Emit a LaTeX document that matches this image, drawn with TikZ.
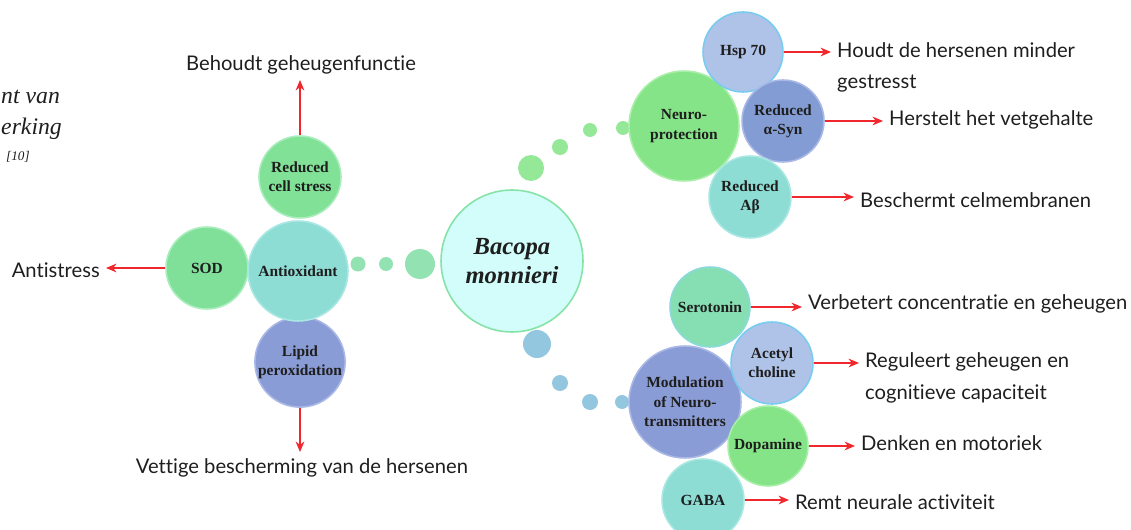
\documentclass[tikz,border=0pt]{standalone}
\usepackage{fontspec}
\setmainfont{Liberation Serif}
\newfontfamily\latofont[Ligatures=NoCommon]{Lato}
\usetikzlibrary{arrows.meta}

\definecolor{bacopafill}{HTML}{D2FDFA}
\definecolor{bacopaline}{HTML}{86E3A8}
\definecolor{tealfill}{HTML}{8EDDD5}
\definecolor{tealline}{HTML}{A9E8E2}
\definecolor{greenfill}{HTML}{80E09A}
\definecolor{greenline}{HTML}{A8EDBC}
\definecolor{limefill}{HTML}{84E487}
\definecolor{limeline}{HTML}{A9EEA9}
\definecolor{bluefill}{HTML}{8A9CD5}
\definecolor{blueline}{HTML}{A9B8E6}
\definecolor{synfill}{HTML}{839DD4}
\definecolor{paleblue}{HTML}{AFC2E8}
\definecolor{skyline}{HTML}{78CCEF}
\definecolor{dotgreen}{HTML}{93E2B2}
\definecolor{dotblue}{HTML}{93C6DF}
\definecolor{arrowred}{HTML}{F0282D}
\definecolor{labelgray}{HTML}{1E1E1E}

\begin{document}
\begin{tikzpicture}
    [x=0.02cm, y=-0.02cm,
    bubble/.style={circle, draw, line width=0.9pt, inner sep=0pt, align=center,
        text=labelgray, font=\fontsize{8.8}{11}\selectfont\bfseries},
    dot/.style={circle, inner sep=0pt},
    effect/.style={-{Stealth[length=6pt,width=5pt]}, arrowred, line width=0.6pt},
    effect text/.style={text=labelgray, font=\latofont\fontsize{11.5}{14}\selectfont}]

    \useasboundingbox (0,0) rectangle (1131,530);
    \clip (0,0) rectangle (1131,530);

    % caption at the left edge
    \node[anchor=west, inner xsep=0.5pt, font=\itshape\fontsize{13.5}{16}\selectfont, text=labelgray] (capa) at (0,97) {nt van};
    \node[anchor=west, inner xsep=0.5pt, font=\itshape\fontsize{13.5}{16}\selectfont, text=labelgray] (capb) at (0,129) {erking};
    \node[anchor=west, font=\itshape\fontsize{7.5}{8}\selectfont, text=labelgray] (capc) at (0,157) {[10]};

    % drawing the dots between the clusters
    \node[dot, fill=dotgreen, minimum size=0.3cm] (ldot1) at (358,264) {};
    \node[dot, fill=dotgreen, minimum size=0.28cm] (ldot2) at (386,264) {};
    \node[dot, fill=dotgreen, minimum size=0.6cm] (ldot3) at (420,264) {};
    \node[dot, fill=limefill!85!white, minimum size=0.52cm] (udot1) at (531,168) {};
    \node[dot, fill=limefill!85!white, minimum size=0.32cm] (udot2) at (560,147) {};
    \node[dot, fill=limefill!85!white, minimum size=0.28cm] (udot3) at (590,130) {};
    \node[dot, fill=limefill!85!white, minimum size=0.28cm] (udot4) at (623,128) {};
    \node[dot, fill=dotblue, minimum size=0.56cm] (bdot1) at (537,344) {};
    \node[dot, fill=dotblue, minimum size=0.32cm] (bdot2) at (560,383) {};
    \node[dot, fill=dotblue, minimum size=0.32cm] (bdot3) at (590,402) {};
    \node[dot, fill=dotblue, minimum size=0.28cm] (bdot4) at (622,402) {};

    % drawing the centre
    \node[bubble, fill=bacopafill, draw=bacopaline, minimum size=2.84cm,
        font=\fontsize{14}{16.5}\selectfont\bfseries\itshape] (bacopa) at (512,261) {Bacopa\\monnieri};

    % drawing the antioxidant cluster
    \node[bubble, fill=greenfill, draw=greenline, minimum size=1.64cm] (sod) at (207,268) {SOD};
    \node[bubble, fill=greenfill!80!limefill, draw=greenline, minimum size=1.64cm] (cellstress) at (300,177) {Reduced\\cell stress};
    \node[bubble, fill=bluefill, draw=blueline, minimum size=1.72cm] (lipid) at (300,362) {Lipid\\peroxidation};
    \node[bubble, fill=tealfill, draw=tealline, minimum size=2.0cm] (antiox) at (298,271) {Antioxidant};

    % drawing the neuroprotection cluster
    \node[bubble, fill=limefill, draw=limeline, minimum size=2.2cm] (neuro) at (684,126) {Neuro-\\protection};
    \node[bubble, fill=paleblue, draw=skyline, minimum size=1.6cm] (hsp) at (743,52) {Hsp 70};
    \node[bubble, fill=synfill, draw=blueline, minimum size=1.64cm] (asyn) at (783,121) {Reduced\\α-Syn};
    \node[bubble, fill=tealfill, draw=tealline, minimum size=1.64cm] (abeta) at (750,197) {Reduced\\Aβ};

    % drawing the neurotransmitter cluster
    \node[bubble, fill=bluefill, draw=blueline, minimum size=2.24cm] (modul) at (685,402) {Modulation\\of Neuro-\\transmitters};
    \node[bubble, fill=greenfill!60!tealfill, draw=skyline!60!greenline, minimum size=1.6cm] (sero) at (710,307) {Serotonin};
    \node[bubble, fill=paleblue, draw=skyline, minimum size=1.64cm] (acetyl) at (772,363) {Acetyl\\choline};
    \node[bubble, fill=tealfill, draw=tealline, minimum size=1.64cm] (gaba) at (703,500) {GABA};
    \node[bubble, fill=limefill, draw=limeline, minimum size=1.6cm] (dopa) at (768,446) {Dopamine};

    % drawing the effect texts
    \node[effect text, anchor=south] (behoudt) at (301,80) {Behoudt geheugenfunctie};
    \node[effect text, anchor=east] (antistress) at (106,270) {Antistress};
    \node[effect text, anchor=north] (vettige) at (302,452) {Vettige bescherming van de hersenen};
    \node[effect text, anchor=west] (hsptxt) at (831,50) {Houdt de hersenen minder};
    \node[effect text, anchor=west] (hsptxtb) at (831,84) {gestresst};
    \node[effect text, anchor=west] (asyntxt) at (883,120) {Herstelt het vetgehalte};
    \node[effect text, anchor=west] (abetatxt) at (854,200) {Beschermt celmembranen};
    \node[effect text, anchor=west] (serotxt) at (802,304) {Verbetert concentratie en geheugen};
    \node[effect text, anchor=west] (acetyltxt) at (859,362) {Reguleert geheugen en};
    \node[effect text, anchor=west] (acetyltxtb) at (859,394) {cognitieve capaciteit};
    \node[effect text, anchor=west] (dopatxt) at (855,443) {Denken en motoriek};
    \node[effect text, anchor=west] (gabatxt) at (789,502) {Remt neurale activiteit};

    % drawing the arrows
    \draw[effect] (cellstress.north) -- (cellstress.north |- behoudt.south);
    \draw[effect] (sod.west) -- (sod.west -| antistress.east);
    \draw[effect] (lipid.south) -- (lipid.south |- vettige.north);
    \draw[effect] (hsp.east) -- (hsp.east -| hsptxt.west);
    \draw[effect] (asyn.east) -- (asyn.east -| asyntxt.west);
    \draw[effect] (abeta.east) -- (abeta.east -| abetatxt.west);
    \draw[effect] (sero.east) -- (sero.east -| serotxt.west);
    \draw[effect] (acetyl.east) -- (acetyl.east -| acetyltxt.west);
    \draw[effect] (dopa.east) -- (dopa.east -| dopatxt.west);
    \draw[effect] (gaba.east) -- (gaba.east -| gabatxt.west);

\end{tikzpicture}
\end{document}
